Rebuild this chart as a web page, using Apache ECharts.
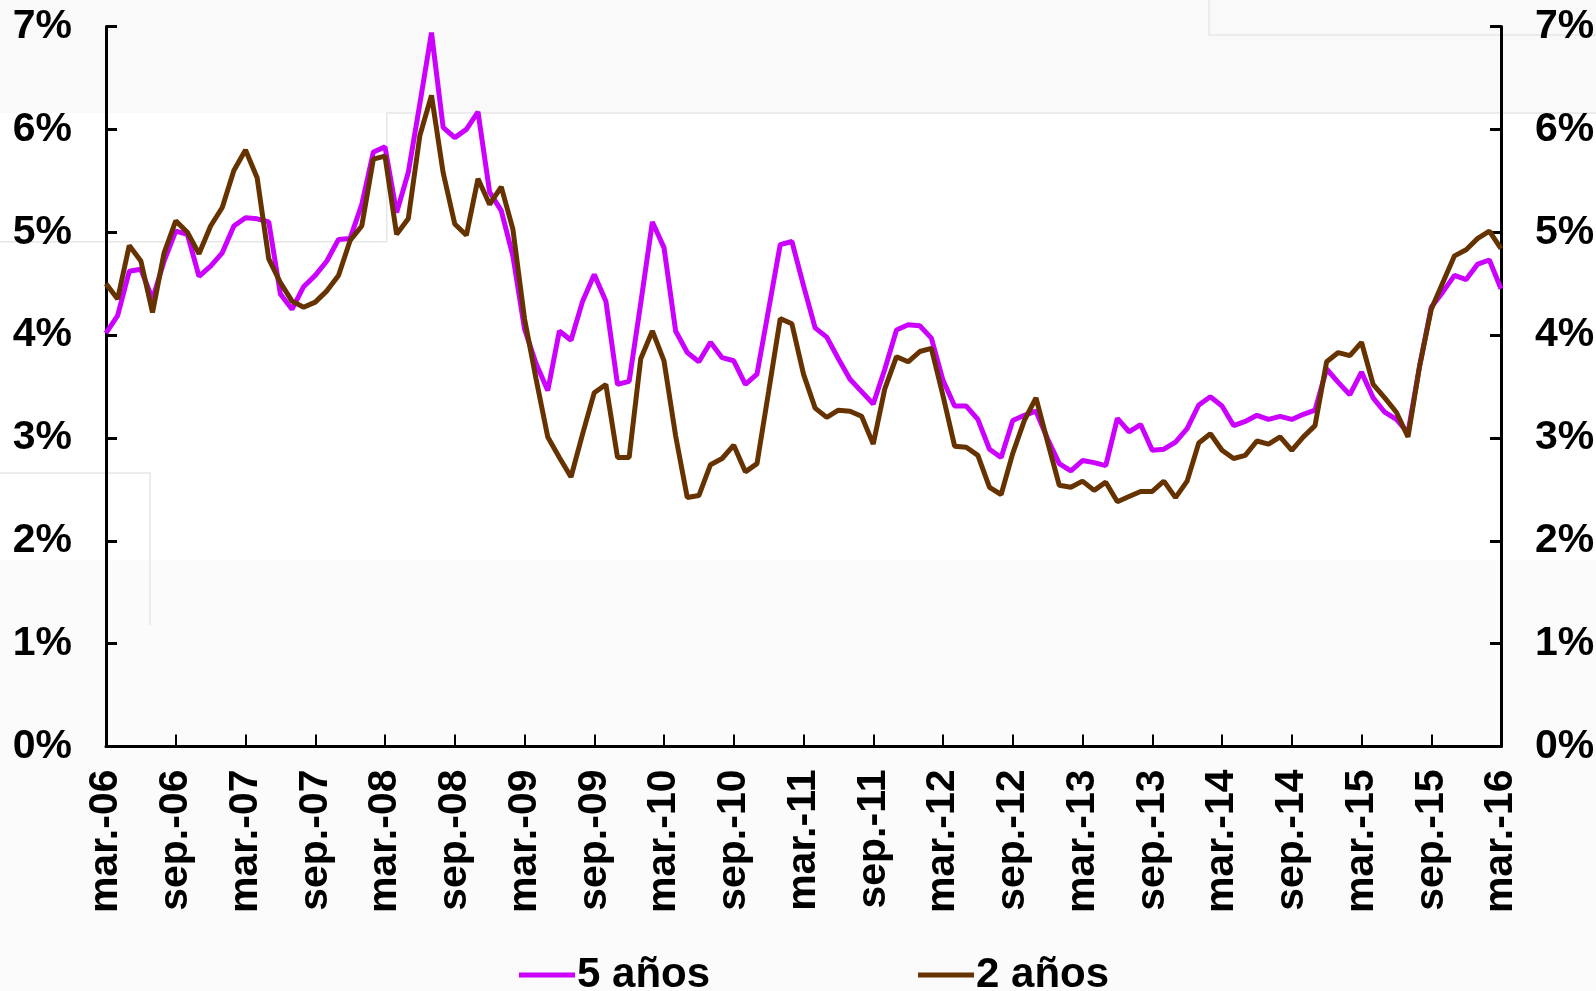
<!DOCTYPE html>
<html>
<head>
<meta charset="utf-8">
<script src="https://cdn.jsdelivr.net/npm/echarts/dist/echarts.min.js"></script>
<style>
html,body{margin:0;padding:0;background:#ffffff;}
#chart{width:1596px;height:991px;}
</style>
</head>
<body>
<div id="chart"></div>
<script>
// Monthly categories from mar-06 to mar-16
const monthNames = ['ene.','feb.','mar.','abr.','may.','jun.','jul.','ago.','sep.','oct.','nov.','dic.'];
const startYear = 2006, startMonth = 2, monthCount = 121;
const categories = [];
for (let k = 0; k < monthCount; k++) {
  const m = (startMonth + k) % 12;
  const y = startYear + Math.floor((startMonth + k) / 12);
  categories.push(monthNames[m] + '-' + String(y % 100).padStart(2, '0'));
}

// 5 años (%)
const fiveYears = [
  4.02,4.19,4.62,4.64,4.35,4.72,5.01,4.98,4.57,4.67,
  4.80,5.06,5.14,5.13,5.10,4.40,4.25,4.47,4.58,4.72,
  4.93,4.94,5.27,5.78,5.83,5.19,5.58,6.25,6.94,6.02,
  5.92,6.00,6.17,5.39,5.21,4.77,4.06,3.72,3.46,4.04,
  3.95,4.33,4.59,4.33,3.52,3.55,4.31,5.10,4.85,4.04,
  3.83,3.74,3.93,3.78,3.75,3.52,3.62,4.25,4.88,4.91,
  4.48,4.07,3.98,3.77,3.57,3.45,3.33,3.67,4.05,4.10,
  4.09,3.97,3.56,3.31,3.31,3.18,2.89,2.81,3.17,3.22,
  3.26,2.99,2.75,2.68,2.78,2.76,2.73,3.19,3.06,3.13,
  2.88,2.89,2.96,3.09,3.32,3.40,3.31,3.12,3.16,3.22,
  3.18,3.21,3.18,3.23,3.27,3.67,3.54,3.42,3.64,3.39,
  3.25,3.18,3.05,3.70,4.27,4.42,4.58,4.54,4.69,4.73,
  4.45
];

// 2 años (%)
const twoYears = [
  4.50,4.35,4.87,4.72,4.22,4.80,5.11,5.00,4.79,5.06,
  5.24,5.60,5.80,5.53,4.74,4.51,4.33,4.27,4.32,4.43,
  4.58,4.92,5.06,5.71,5.74,4.98,5.13,5.94,6.33,5.58,
  5.08,4.97,5.52,5.27,5.44,5.03,4.16,3.57,3.01,2.81,
  2.62,3.04,3.44,3.52,2.81,2.81,3.77,4.04,3.75,3.02,
  2.42,2.44,2.74,2.80,2.93,2.67,2.75,3.45,4.16,4.11,
  3.62,3.29,3.20,3.27,3.26,3.21,2.94,3.48,3.79,3.74,
  3.84,3.87,3.41,2.92,2.91,2.83,2.52,2.45,2.85,3.17,
  3.39,2.96,2.54,2.52,2.58,2.49,2.57,2.38,2.43,2.48,
  2.48,2.58,2.42,2.58,2.95,3.04,2.88,2.80,2.83,2.97,
  2.94,3.01,2.88,3.01,3.12,3.74,3.83,3.80,3.93,3.52,
  3.39,3.25,3.01,3.70,4.25,4.51,4.77,4.83,4.94,5.01,
  4.84
];

const seriesNames = ['5 años', '2 años'];
const seriesColors = ['#CC00FF', '#663300'];

const font = 'Liberation Sans, Arial, sans-serif';
const labelStyle = { color: '#000', fontFamily: font, fontWeight: 'bold', fontSize: 41 };

const chart = echarts.init(document.getElementById('chart'));
const yAxisCommon = {
  type: 'value', min: 0, max: 7, interval: 1,
  splitLine: { show: false },
  axisLine: { show: true, lineStyle: { color: '#000', width: 3 } },
  axisTick: { show: true, inside: true, length: 11, lineStyle: { color: '#000', width: 3 } }
};

// faint background panels seen behind the reference chart
const panelLine = { stroke: '#e6e6e6', lineWidth: 1.5 };
const bgGraphics = [
  { type: 'rect', z: -10, silent: true, shape: { x: 0, y: 0, width: 1596, height: 113 }, style: { fill: '#f9f9f9' } },
  { type: 'rect', z: -10, silent: true, shape: { x: 0, y: 560, width: 1596, height: 431 }, style: { fill: '#fbfbfb' } },
  { type: 'polyline', z: -9, silent: true, shape: { points: [[0, 241.7], [386.7, 241.7], [386.7, 113], [1596, 113]] }, style: Object.assign({ fill: null }, panelLine) },
  { type: 'polyline', z: -9, silent: true, shape: { points: [[1209, 0], [1209, 35], [1596, 35]] }, style: Object.assign({ fill: null }, panelLine) },
  { type: 'polyline', z: -9, silent: true, shape: { points: [[0, 473], [150, 473], [150, 625]] }, style: Object.assign({ fill: null }, panelLine) }
];

chart.setOption({
  animation: false,
  backgroundColor: '#ffffff',
  graphic: { elements: bgGraphics },
  grid: { left: 106, right: 95, top: 26.5, bottom: 244.5, containLabel: false, outerBoundsMode: 'none' },
  legend: {
    data: seriesNames,
    left: 519, top: 954, padding: 0,
    icon: 'rect', itemWidth: 56, itemHeight: 5, itemGap: 208,
    textStyle: Object.assign({}, labelStyle, { fontSize: 42, padding: [0, 0, 0, -3] })
  },
  xAxis: {
    type: 'category', data: categories, boundaryGap: false,
    axisLine: { show: true, lineStyle: { color: '#000', width: 3 } },
    axisTick: { show: true, inside: true, length: 12, interval: 5, lineStyle: { color: '#000', width: 2 } },
    axisLabel: Object.assign({}, labelStyle, { interval: 5, rotate: 90, margin: 23 }),
    splitLine: { show: false }
  },
  yAxis: [
    Object.assign({}, yAxisCommon, {
      position: 'left',
      axisLabel: Object.assign({}, labelStyle, { margin: 34, formatter: '{value}%' })
    }),
    Object.assign({}, yAxisCommon, {
      position: 'right',
      axisLabel: Object.assign({}, labelStyle, { margin: 34, formatter: '{value}%' })
    })
  ],
  series: [
    { name: seriesNames[0], type: 'line', data: fiveYears, yAxisIndex: 0, symbol: 'none',
      lineStyle: { color: seriesColors[0], width: 5 }, itemStyle: { color: seriesColors[0] } },
    { name: seriesNames[1], type: 'line', data: twoYears, yAxisIndex: 0, symbol: 'none',
      lineStyle: { color: seriesColors[1], width: 5 }, itemStyle: { color: seriesColors[1] } }
  ]
});
</script>
</body>
</html>
